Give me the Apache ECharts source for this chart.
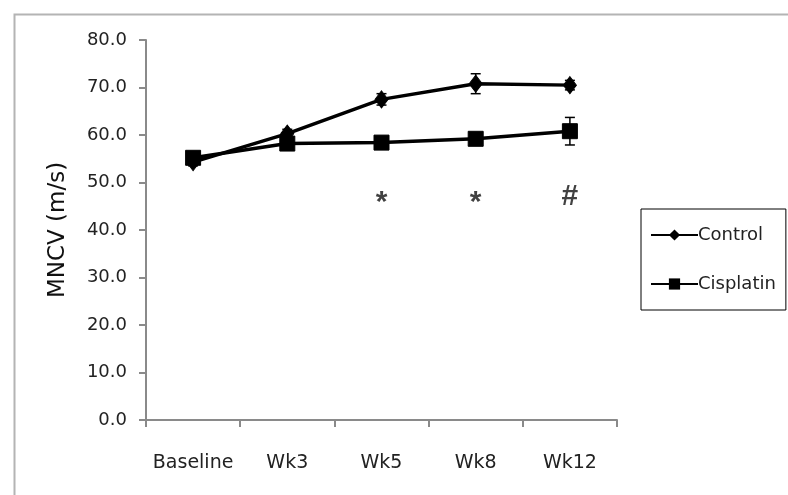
<!DOCTYPE html>
<html>
<head>
<meta charset="utf-8">
<script src="https://cdn.jsdelivr.net/npm/echarts@6/dist/echarts.min.js"></script>
<style>html,body{margin:0;padding:0;background:#fff;}#c{width:788px;height:495px;}</style>
</head>
<body>
<div id="c"></div>
<script>
var categories = ['Baseline', 'Wk3', 'Wk5', 'Wk8', 'Wk12'];
var controlValues = [54.3, 60.3, 67.5, 70.8, 70.5];
var controlErrors = [0.8, 0.9, 1.2, 2.1, 1.0];
var cisplatinValues = [55.2, 58.2, 58.4, 59.2, 60.8];
var cisplatinErrors = [0.8, 0.9, 0.8, 0.9, 2.9];
var annotationLabels = ['', '', '*', '*', '#'];
var annotationLevel = [47, 47, 47, 47, 47];
var yTicks = { min: 0, max: 80, interval: 10 };

var chart = echarts.init(document.getElementById('c'), null, { renderer: 'canvas' });

function errorSeries(values, errors, name) {
  return {
    type: 'custom',
    name: name + ' err',
    z: 1,
    silent: true,
    data: values.map(function (v, i) { return [i, v - errors[i], v + errors[i]]; }),
    renderItem: function (params, api) {
      var lo = api.coord([api.value(0), api.value(1)]);
      var hi = api.coord([api.value(0), api.value(2)]);
      var w = 5;
      var st = { stroke: '#000', lineWidth: 1.5 };
      return {
        type: 'group',
        children: [
          { type: 'line', shape: { x1: lo[0], y1: lo[1], x2: hi[0], y2: hi[1] }, style: st },
          { type: 'line', shape: { x1: lo[0] - w, y1: lo[1], x2: lo[0] + w, y2: lo[1] }, style: st },
          { type: 'line', shape: { x1: hi[0] - w, y1: hi[1], x2: hi[0] + w, y2: hi[1] }, style: st }
        ]
      };
    }
  };
}

var option = {
  backgroundColor: '#ffffff',
  animation: false,
  graphic: [{
    type: 'rect',
    left: 12, top: 12,
    shape: { width: 900, height: 600 },
    style: { fill: 'none', stroke: '#b4b4b4', lineWidth: 2 }
  }],
  grid: { left: 146, right: 171, top: 40, bottom: 75, containLabel: false },
  legend: {
    orient: 'vertical',
    left: 641, top: 209,
    data: ['Control', 'Cisplatin'],
    itemWidth: 47, itemHeight: 14, itemGap: 31,
    padding: [17, 10, 17, 9],
    borderColor: '#000', borderWidth: 1,
    textStyle: { fontFamily: 'DejaVu Sans', fontSize: 18, color: '#222', padding: [0, 0, 0, -5] }
  },
  xAxis: {
    type: 'category',
    data: categories,
    boundaryGap: true,
    axisLine: { lineStyle: { color: '#8a8a8a', width: 2 } },
    axisTick: { show: true, interval: 0, length: 7, lineStyle: { color: '#8a8a8a', width: 2 } },
    axisLabel: { interval: 0, fontFamily: 'DejaVu Sans', fontSize: 19, color: '#222', margin: 34 },
    splitLine: { show: false }
  },
  yAxis: {
    type: 'value',
    min: yTicks.min, max: yTicks.max, interval: yTicks.interval,
    name: 'MNCV (m/s)',
    nameLocation: 'middle',
    nameGap: 76,
    nameRotate: 90,
    nameTextStyle: { fontFamily: 'DejaVu Sans', fontSize: 23, color: '#111' },
    axisLine: { show: true, lineStyle: { color: '#8a8a8a', width: 2 } },
    axisTick: { show: true, length: 7, lineStyle: { color: '#8a8a8a', width: 2 } },
    axisLabel: { fontFamily: 'DejaVu Sans', fontSize: 18, color: '#222', margin: 19,
      formatter: function (v) { return v.toFixed(1); } },
    splitLine: { show: false }
  },
  series: [
    errorSeries(controlValues, controlErrors, 'Control'),
    errorSeries(cisplatinValues, cisplatinErrors, 'Cisplatin'),
    {
      name: 'Control', type: 'line', data: controlValues, z: 3,
      symbol: 'diamond', symbolSize: [13, 17],
      lineStyle: { color: '#000', width: 3.5 },
      itemStyle: { color: '#000', borderColor: '#000' }
    },
    {
      name: 'Cisplatin', type: 'line', data: cisplatinValues, z: 3,
      symbol: 'rect', symbolSize: 15,
      lineStyle: { color: '#000', width: 3.5 },
      itemStyle: { color: '#000', borderColor: '#000' }
    },
    {
      name: 'annotations', type: 'scatter', z: 4, silent: true,
      symbolSize: 0,
      data: annotationLevel.map(function (v, i) { return [i, v, annotationLabels[i]]; }),
      label: {
        show: true, position: 'inside',
        color: '#111',
        formatter: function (p) { return p.data[2] === '*' ? '{s|*}' : '{h|' + p.data[2] + '}'; },
        rich: {
          s: { fontFamily: 'Liberation Sans', fontSize: 30, fontWeight: 'bold', color: '#111', padding: [12, 0, 0, 0] },
          h: { fontFamily: 'Liberation Sans', fontSize: 30, fontWeight: 'bold', color: '#111' }
        }
      }
    }
  ]
};
chart.setOption(option);
</script>
</body>
</html>
